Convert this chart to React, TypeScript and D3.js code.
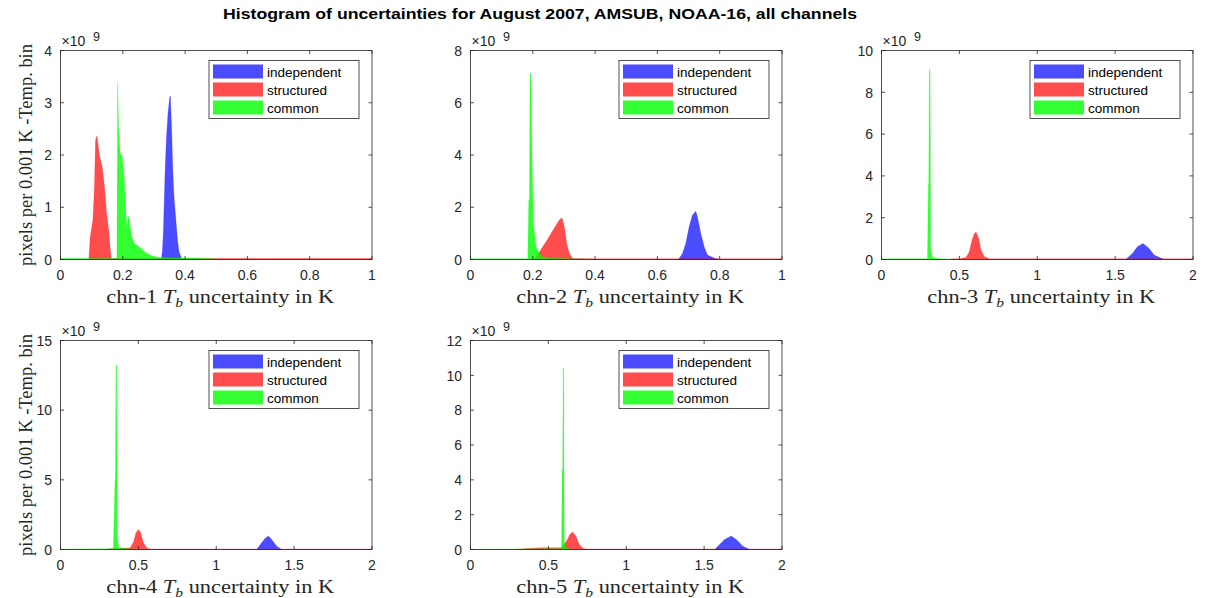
import React from 'react'
import * as d3 from 'd3'

// histogram outlines per channel, x in K, y in units of 1e9 pixels per 0.001 K bin
const chn1Independent = [[0.3237, 0], [0.327, 0.15], [0.3305, 0.55], [0.3355, 1.64], [0.3398, 2.28], [0.345, 2.79], [0.3505, 3.1], [0.3527, 3.13], [0.3565, 2.53], [0.3605, 1.7], [0.3644, 1.2], [0.3698, 0.81], [0.3751, 0.4], [0.3805, 0.15], [0.388, 0.03], [0.392, 0]]
const chn1Structured = [[0.0911, 0], [0.0954, 0.43], [0.104, 0.75], [0.109, 1.38], [0.1125, 2.28], [0.117, 2.37], [0.125, 2.0], [0.134, 1.77], [0.1415, 1.38], [0.147, 0.94], [0.155, 0.55], [0.16, 0.17], [0.163, 0.02], [0.5, 0.02], [1.0, 0.02]]
const chn1Common = [[0.0, 0.02], [0.1811, 0.02], [0.1835, 3.41], [0.1865, 2.53], [0.1919, 2.02], [0.1972, 2.0], [0.2047, 1.58], [0.208, 1.07], [0.2133, 0.62], [0.2186, 0.84], [0.224, 0.62], [0.2294, 0.43], [0.238, 0.3], [0.2508, 0.25], [0.2615, 0.2], [0.2722, 0.14], [0.2883, 0.08], [0.3151, 0.04], [0.3473, 0.03], [0.3794, 0.03], [0.4255, 0.03], [0.4684, 0.02], [0.5, 0.01]]

const chn2Independent = [[0.6677, 0], [0.6805, 0.23], [0.6912, 0.61], [0.7019, 1.25], [0.7126, 1.7], [0.7233, 1.85], [0.7286, 1.63], [0.7393, 1.0], [0.75, 0.49], [0.7607, 0.17], [0.7874, 0.03], [0.798, 0]]
const chn2Structured = [[0.2051, 0], [0.2212, 0.29], [0.2318, 0.49], [0.2425, 0.68], [0.2585, 1.0], [0.2746, 1.31], [0.2853, 1.51], [0.2938, 1.6], [0.3013, 1.25], [0.3088, 0.61], [0.3173, 0.23], [0.328, 0.04], [0.4, 0.03], [1.0, 0.03]]
const chn2Common = [[0.0, 0.03], [0.1838, 0.03], [0.187, 2.27], [0.1891, 2.3], [0.1912, 7.15], [0.1934, 7.1], [0.1955, 5.4], [0.1998, 2.53], [0.203, 1.25], [0.2105, 0.49], [0.2212, 0.23], [0.2318, 0.1], [0.2532, 0.05], [0.35, 0.02], [0.4, 0]]

const chn3Independent = [[1.5684, 0], [1.6111, 0.29], [1.6432, 0.61], [1.6795, 0.77], [1.7179, 0.53], [1.75, 0.21], [1.8034, 0.03], [1.8141, 0]]
const chn3Structured = [[0.4466, 0.03], [0.5, 0.03], [0.5427, 0.1], [0.5641, 0.37], [0.5812, 0.92], [0.5962, 1.24], [0.6068, 1.32], [0.6239, 1.0], [0.6389, 0.45], [0.6603, 0.13], [0.6923, 0.03], [2.0, 0.03]]
const chn3Common = [[0.0, 0.03], [0.2949, 0.03], [0.3013, 3.64], [0.3034, 3.64], [0.3077, 9.09], [0.312, 9.0], [0.3162, 0.45], [0.3291, 0.08], [0.3718, 0.04], [0.4466, 0.02], [0.46, 0]]

const chn4Independent = [[1.2595, 0], [1.2916, 0.48], [1.313, 0.79], [1.3344, 0.96], [1.3558, 0.72], [1.3879, 0.24], [1.4201, 0]]
const chn4Structured = [[0.3, 0.03], [0.3927, 0.1], [0.4462, 0.1], [0.4676, 0.48], [0.4848, 1.2], [0.4998, 1.44], [0.5147, 1.2], [0.5319, 0.48], [0.5533, 0.12], [0.5746, 0.04], [2.0, 0.04]]
const chn4Common = [[0.0, 0.03], [0.3392, 0.05], [0.35, 5.0], [0.3521, 5.0], [0.3563, 13.28], [0.3606, 13.2], [0.3649, 0.96], [0.3735, 0.1], [0.45, 0.04], [0.5, 0]]

const chn5Independent = [[1.5673, 0], [1.5994, 0.29], [1.6314, 0.57], [1.6742, 0.77], [1.7063, 0.57], [1.749, 0.19], [1.7917, 0]]
const chn5Structured = [[0.3, 0.02], [0.4455, 0.1], [0.4883, 0.1], [0.5844, 0.1], [0.6165, 0.48], [0.6378, 0.86], [0.655, 1.01], [0.6763, 0.77], [0.6977, 0.29], [0.7233, 0.06], [0.7447, 0.03], [2.0, 0.03]]
const chn5Common = [[0.0, 0.02], [0.5844, 0.05], [0.5887, 4.6], [0.5919, 4.6], [0.5951, 10.43], [0.5983, 10.4], [0.6015, 0.57], [0.6101, 0.1], [0.65, 0]]

const channels = ['chn-1', 'chn-2', 'chn-3', 'chn-4', 'chn-5']
const xMax = [1, 1, 2, 2, 2]
const yMax = [4, 8, 10, 15, 12]
const xTicksA = [0, 0.2, 0.4, 0.6, 0.8, 1]
const xTicksB = [0, 0.5, 1, 1.5, 2]
const yTicks = [[0, 1, 2, 3, 4], [0, 2, 4, 6, 8], [0, 2, 4, 6, 8, 10], [0, 5, 10, 15], [0, 2, 4, 6, 8, 10, 12]]
const seriesNames = ['independent', 'structured', 'common']
const seriesData = [
  [chn1Independent, chn1Structured, chn1Common],
  [chn2Independent, chn2Structured, chn2Common],
  [chn3Independent, chn3Structured, chn3Common],
  [chn4Independent, chn4Structured, chn4Common],
  [chn5Independent, chn5Structured, chn5Common],
]

const COLORS = ['#0000ff', '#ff0000', '#00ff00']
const ALPHA = [0.7, 0.7, 0.8]
const AX = '#262626'
const SANS = 'Liberation Sans, Arial, Helvetica, sans-serif'
const SERIF = 'Liberation Serif, Times New Roman, serif'

const W = 311.5
const H = 209
const lefts = [60.5, 470.5, 881.5, 60.5, 470.5]
const tops = [50.5, 50.5, 50.5, 340.5, 340.5]

const fmt = (v: number) => String(v)

function Panel({ i }: { i: number }) {
  const x = d3.scaleLinear().domain([0, xMax[i]]).range([0, W])
  const y = d3.scaleLinear().domain([0, yMax[i]]).range([H, 0])
  const area = d3.area<number[]>()
    .x(d => x(d[0]))
    .y0(H)
    .y1(d => y(d[1]))
  const xt = xMax[i] === 1 ? xTicksA : xTicksB
  const tl = 3.5

  return (
    <g transform={`translate(${lefts[i]},${tops[i]})`}>
      <rect x={0} y={0} width={W} height={H} fill='#fff' />
      {seriesData[i].map((s, k) => (
        <path key={k} d={area(s) || ''} fill={COLORS[k]} fillOpacity={ALPHA[k]}
          stroke={COLORS[k]} strokeOpacity={0.35} strokeWidth={0.6} />
      ))}
      <rect x={0} y={0} width={W} height={H} fill='none' stroke={AX} strokeWidth={0.8} />
      {xt.map(t => (
        <g key={'x' + t}>
          <line x1={x(t)} x2={x(t)} y1={H} y2={H - tl} stroke={AX} strokeWidth={0.8} />
          <line x1={x(t)} x2={x(t)} y1={0} y2={tl} stroke={AX} strokeWidth={0.8} />
          <text x={x(t)} y={H + 20.5} textAnchor='middle' fontSize={14} fill={AX} fontFamily={SANS}>{fmt(t)}</text>
        </g>
      ))}
      {yTicks[i].map(t => (
        <g key={'y' + t}>
          <line x1={0} x2={tl} y1={y(t)} y2={y(t)} stroke={AX} strokeWidth={0.8} />
          <line x1={W} x2={W - tl} y1={y(t)} y2={y(t)} stroke={AX} strokeWidth={0.8} />
          <text x={-8.5} y={y(t) + 5.2} textAnchor='end' fontSize={14} fill={AX} fontFamily={SANS}>{fmt(t)}</text>
        </g>
      ))}
      <text x={1} y={-4.5} fontSize={14} fill={AX} fontFamily={SANS}>×10</text>
      <text x={32.5} y={-9.5} fontSize={12.5} fill={AX} fontFamily={SANS}>9</text>
      <text x={W / 2 + 4} y={H + 43} textAnchor='middle' fontSize={18} fill={AX} fontFamily={SERIF}
        textLength={228} lengthAdjust='spacingAndGlyphs'>
        {channels[i] + ' '}
        <tspan fontStyle='italic'>T</tspan>
        <tspan fontStyle='italic' fontSize={12.5} dy={4}>b</tspan>
        <tspan dy={-4}>{' uncertainty in K'}</tspan>
      </text>
      {(i === 0 || i === 3) && (
        <text transform={`translate(${-28.5},${H / 2}) rotate(-90)`} textAnchor='middle' fontSize={18} fill={AX} fontFamily={SERIF}
          textLength={222} lengthAdjust='spacingAndGlyphs'>
          pixels per 0.001 K -Temp. bin
        </text>
      )}
      <g transform={`translate(${W - 163},10)`}>
        <rect x={0} y={0} width={150} height={58} fill='#fff' stroke={AX} strokeWidth={0.8} />
        {seriesNames.map((n, k) => (
          <g key={n} transform={`translate(0,${4 + k * 18})`}>
            <rect x={4} y={0} width={50} height={14} fill={COLORS[k]} fillOpacity={ALPHA[k]} />
            <text x={58} y={12} fontSize={13.5} fill='#000' fontFamily={SANS}>{n}</text>
          </g>
        ))}
      </g>
    </g>
  )
}

export default function App() {
  return (
    <svg width={1206} height={598} style={{ position: 'absolute', left: 0, top: 0, background: '#fff' }}>
      <rect width={1206} height={598} fill='#fff' />
      <text x={540} y={19} textAnchor='middle' fontSize={15} fontWeight='bold' fill='#000' fontFamily={SANS}
        textLength={634} lengthAdjust='spacingAndGlyphs'>
        Histogram of uncertainties for August 2007, AMSUB, NOAA-16, all channels
      </text>
      {channels.map((c, i) => <Panel key={c} i={i} />)}
    </svg>
  )
}
